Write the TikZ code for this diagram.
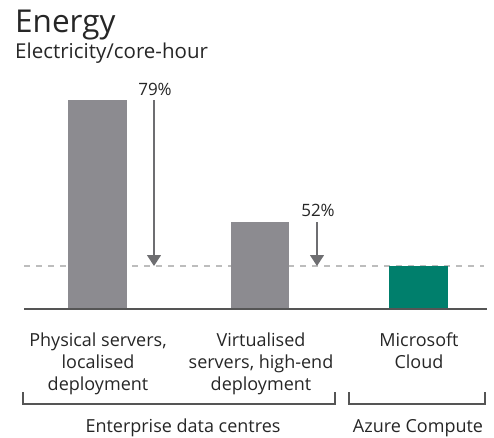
\documentclass[tikz,border=0pt]{standalone}
\usepackage{fontspec}
\setmainfont{Open Sans}
\usetikzlibrary{arrows.meta}
\definecolor{bargray}{HTML}{8C8B90}
\definecolor{bargreen}{HTML}{007F6C}
\definecolor{arrowgray}{HTML}{6E6E71}
\definecolor{axisgray}{HTML}{555555}
\definecolor{dashgray}{HTML}{BDBDBD}
\definecolor{txt}{HTML}{262626}
\tikzset{
  bar/.style={fill=bargray, draw=none},
  greenbar/.style={fill=bargreen, draw=none},
  drop/.style={draw=arrowgray, line width=1.2pt, -{Triangle[width=14pt,length=11pt]}},
  pct/.style={anchor=base, font=\fontsize{17}{20}\selectfont, text=txt, inner sep=0pt},
  lbl/.style={anchor=base, font=\fontsize{18}{22}\selectfont, text=txt, inner sep=0pt, align=center},
  brk/.style={draw=axisgray, line width=1.2pt},
}
\begin{document}
\begin{tikzpicture}[x=1pt,y=-1pt]
\useasboundingbox (0,0) rectangle (494,437);
% title
\node[anchor=base west, inner sep=0pt, text=txt, font=\fontsize{31.5}{36}\selectfont] (title) at (15,32) {Energy};
\node[anchor=base west, inner sep=0pt, text=txt, font=\fontsize{20.5}{24}\selectfont] (sub) at (15,58) {Electricity/core-hour};
% dashed reference
\draw[dashgray, line width=1.2pt, dash pattern=on 6pt off 6pt] (24,266) -- (484,266);
% bars
\path[bar] (68,100) rectangle (127,309);
\path[bar] (231,222) rectangle (289,309);
\path[greenbar] (389,266) rectangle (448,309);
% baseline
\draw[axisgray, line width=1.3pt] (24,309) -- (487,309);
% arrows
\coordinate (a1s) at (154,100);
\coordinate (a1e) at (154,266);
\coordinate (a2s) at (317,222);
\coordinate (a2e) at (317,266);
\draw[drop] (a1s) -- (a1e);
\draw[drop] (a2s) -- (a2e);
\node[pct] (p79) at (155,95) {79\%};
\node[pct] (p52) at (318,216) {52\%};
% labels (base anchor = baseline of last line)
\node[lbl] (l1) at (98,390) {Physical servers,\\localised\\deployment};
\node[lbl] (l2) at (261,390) {Virtualised\\servers, high-end\\deployment};
\node[lbl] (l3) at (419,368) {Microsoft\\Cloud};
% brackets
\draw[brk] (23,392) -- (23,404) -- (335,404) -- (335,392);
\draw[brk] (349,392) -- (349,404) -- (485,404) -- (485,392);
\node[lbl] (g1) at (183,432) {Enterprise data centres};
\node[lbl] (g2) at (418,432) {Azure Compute};
\end{tikzpicture}
\end{document}
